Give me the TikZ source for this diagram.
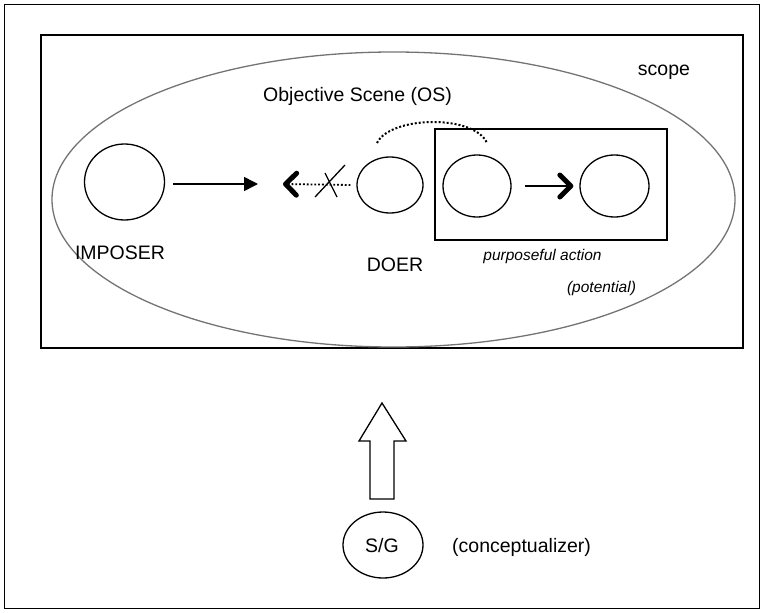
\documentclass[tikz,border=0pt]{standalone}
\usepackage{fontspec}
\setmainfont{Liberation Sans}
\usetikzlibrary{arrows.meta,shapes.geometric,calc}
\begin{document}
\begin{tikzpicture}[x=1pt,y=-1pt,
  ent/.style={draw,line width=1.3pt,ellipse,inner sep=0pt},
  lbl/.style={font=\fontsize{19.5}{22}\selectfont,inner sep=0pt,anchor=base},
  ilbl/.style={font=\fontsize{15.5}{18}\selectfont\itshape,inner sep=0pt,anchor=base},
  frame/.style={draw,line width=1.4pt},
  barb/.style={-{Straight Barb[line width=5pt,length=11pt,width=22pt,round]}}]
\useasboundingbox (0,0) rectangle (763,613);
\draw[line width=1pt] (4,4) rectangle (759,608);
\node[frame,minimum width=702pt,minimum height=313pt,inner sep=0pt] (scope) at (392,191.5) {};
\node[draw=black!55,line width=1.3pt,ellipse,minimum width=683pt,minimum height=295pt,inner sep=0pt] (os) at (393.5,199.5) {};
\node[lbl] (scopet) at (664,75) {scope};
\node[lbl] (ost) at (357.5,101) {Objective Scene (OS)};
\node[ent,minimum width=80pt,minimum height=76pt] (imp) at (124.5,182) {};
\node[lbl] (impt) at (120,259) {IMPOSER};
\coordinate (mid) at (258,184);
\draw[line width=1.6pt,-{Triangle[length=14pt,width=14pt]}] ($(imp.east)+(8,2)$) -- (mid);
\node[ent,minimum width=66pt,minimum height=56pt] (doer) at (390,185) {};
\node[lbl] (doert) at (395,271) {DOER};
\coordinate (blk) at (283,184);
\draw[line width=1.8pt,dotted,barb] ($(doer.west)+(-6,0)$) -- (blk);
\draw[line width=1.3pt] (315,197) -- (345,165) (325,173) -- (337,197);
\node[frame,minimum width=232pt,minimum height=111pt,inner sep=0pt] (pa) at (551,184.5) {};
\node[ent,minimum width=68pt,minimum height=62pt] (c3) at (477,186) {};
\node[ent,minimum width=69pt,minimum height=62pt] (c4) at (614.5,186) {};
\draw[line width=2.6pt,barb] ($(c3.east)+(13,0)$) -- ($(c4.west)+(-6,0)$);
\draw[line width=2pt,dotted] (377,143) .. controls (390,116) and (474,114) .. (487,143);
\node[ilbl] (pat) at (542.5,260) {purposeful action};
\node[ilbl] (pot) at (601.5,292) {(potential)};
\node[ent,minimum width=80pt,minimum height=66pt] (sg) at (383,545) {};
\node[lbl] at (382,552.5) {S/G};
\node[lbl,anchor=base west] (conc) at (452,552) {(conceptualizer)};
\draw[line width=1.3pt,line join=miter] (370,499) -- (370,441) -- (359,441) -- (382,403) -- (406,441) -- (394,441) -- (394,499) -- cycle;
\end{tikzpicture}
\end{document}
